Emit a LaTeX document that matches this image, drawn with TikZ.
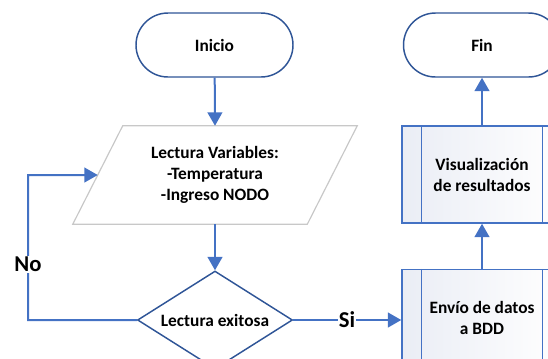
\documentclass[tikz,border=0pt]{standalone}
\usepackage{fontspec}
\setmainfont{Carlito}
\usetikzlibrary{shapes.geometric,arrows.meta,calc}
\definecolor{conn}{HTML}{4472C4}
\definecolor{edge}{HTML}{2F5597}
\definecolor{pedge}{HTML}{4472C4}
\definecolor{pshade}{HTML}{EAEDF5}
\definecolor{iogray}{HTML}{C8C8C8}
\begin{document}
\begin{tikzpicture}[x=0.75pt,y=-0.75pt,
  every node/.style={font=\bfseries\fontsize{13}{15.75}\selectfont, align=center},
  terminal/.style={draw=edge, line width=1.1pt, rounded corners=24pt,
    minimum width=117.75pt, minimum height=48pt, fill=white},
  iobox/.style={minimum width=213pt, minimum height=73.5pt, inner sep=0pt},
  decision/.style={diamond, aspect=1.58, draw=edge, line width=1.1pt, inner sep=0pt,
    minimum width=116.25pt, minimum height=73.5pt},
  procbox/.style={draw=pedge, line width=1.1pt, minimum width=120pt,
    minimum height=72.75pt, left color=pshade, right color=white, inner sep=0pt},
  link/.style={draw=conn, line width=1.5pt, -{Triangle[width=11pt,length=10pt]}},
  lbl/.style={font=\bfseries\fontsize{17}{20}\selectfont, fill=white, inner sep=0.8pt}
]
\useasboundingbox (0,0) rectangle (548,358);

% terminals
\node[terminal] (inicio) at (214.5,45) {Inicio};
\node[terminal] (fin) at (482,45) {Fin};

% input block (parallelogram drawn around an invisible node)
\node[iobox] (lect) at (215,175) {Lectura Variables:\\-Temperatura\\-Ingreso NODO};
\draw[iogray, line width=0.9pt]
  (lect.south west) -- ($(lect.north west)+(50,0)$) -- (lect.north east)
  -- ($(lect.south east)+(-50,0)$) -- cycle;
\coordinate (lectL) at ($(lect.south west)!0.5!($(lect.north west)+(50,0)$)$);

% decision
\node[decision] (dec) at (215,320) {Lectura exitosa};

% predefined processes
\node[procbox] (vis) at (482,174.5) {Visualización\\de resultados};
\node[procbox] (envio) at (482,318) {Envío de datos\\a BDD};
\foreach \b in {vis,envio}{
  \draw[pedge, line width=1.1pt] ([xshift=15pt]\b.north west) -- ([xshift=15pt]\b.south west);
  \draw[pedge, line width=1.1pt] ([xshift=-15pt]\b.north east) -- ([xshift=-15pt]\b.south east);
}

% connectors
\draw[link] (inicio) -- (lect.north);
\draw[link] (lect.south) -- (dec.north);
\coordinate (loopc) at (28,175);
\draw[link] (dec.west) -| (loopc) -- (lectL);
\node[lbl] (no) at (28,264) {No};
\draw[link] (dec.east) -- (dec.east -| envio.west);
\node[lbl] (si) at (347,320) {Si};
\draw[link] (envio.north) -- (vis.south);
\draw[link] (vis.north) -- (fin.south);
\end{tikzpicture}
\end{document}
